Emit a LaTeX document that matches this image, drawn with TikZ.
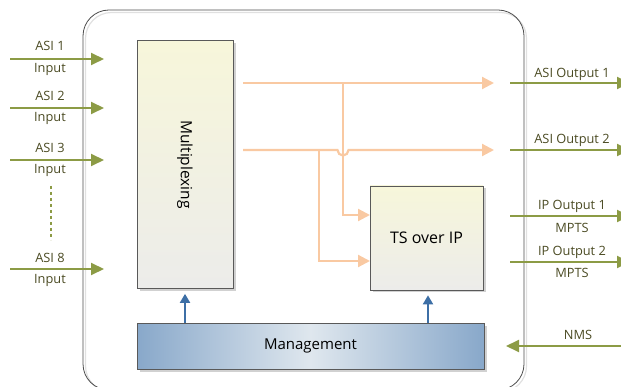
\documentclass[tikz,border=0pt]{standalone}
\usepackage{fontspec}
\setmainfont{Open Sans}
\usetikzlibrary{arrows.meta,shadows}

\definecolor{olivegreen}{HTML}{8C9B45}
\definecolor{peach}{HTML}{F9C9A2}
\definecolor{steel}{HTML}{3D6FA6}
\definecolor{labeltext}{HTML}{4A4A22}
\definecolor{boxtop}{HTML}{F7F6DA}
\definecolor{boxbottom}{HTML}{ECECEA}
\definecolor{mgmtedge}{HTML}{88A8CA}
\definecolor{mgmtmid}{HTML}{DFE7EE}

\tikzset{
  blockbox/.style={draw=black!65, line width=0.7pt, top color=boxtop, bottom color=boxbottom,
    drop shadow={shadow xshift=2.5pt, shadow yshift=-2.5pt, fill=black, opacity=0.18}},
  mgmtbox/.style={draw=black!65, line width=0.7pt, left color=mgmtedge, right color=mgmtedge, middle color=mgmtmid,
    drop shadow={shadow xshift=2.5pt, shadow yshift=-2.5pt, fill=black, opacity=0.18}},
  garrow/.style={draw=olivegreen, line width=2pt, -{Triangle[length=13pt,width=12pt]}},
  oarrow/.style={draw=peach, line width=2.2pt, -{Triangle[length=12pt,width=12pt]}},
  barrow/.style={draw=steel, line width=2pt, -{Triangle[length=9pt,width=10pt]}},
  iolabel/.style={text=labeltext, font=\fontsize{12.8}{14}\selectfont, inner sep=0pt},
}

\begin{document}
\begin{tikzpicture}[x=1pt,y=-1pt]
\useasboundingbox (0,0) rectangle (621,387);

% enclosure of the unit
\draw[black!12, line width=1.2pt, rounded corners=26pt] (85.5,12.5) rectangle (526.5,392);
\draw[black!70, line width=0.8pt, rounded corners=26pt] (83,10) rectangle (524,390);

% functional blocks
\node[blockbox, minimum width=96pt, minimum height=248pt, inner sep=0pt] (mux) at (185,164.5) {};
\node[rotate=-90, font=\fontsize{15.5}{17}\selectfont, inner sep=0pt] (muxlabel) at (mux.center) {Multiplexing};
\node[blockbox, minimum width=113pt, minimum height=104pt, font=\fontsize{16}{18}\selectfont] (ts) at (426.5,238) {TS over IP};
\node[mgmtbox, minimum width=347pt, minimum height=46pt, font=\fontsize{15}{17}\selectfont] (mgmt) at (310.5,346) {Management};

% inputs
\coordinate (in1s) at (10,59);   \coordinate (in1e) at (104,59);
\coordinate (in2s) at (10,108);  \coordinate (in2e) at (104,108);
\coordinate (in3s) at (10,160);  \coordinate (in3e) at (104,160);
\coordinate (in8s) at (10,269);  \coordinate (in8e) at (104,269);
\draw[garrow] (in1s) -- (in1e);
\draw[garrow] (in2s) -- (in2e);
\draw[garrow] (in3s) -- (in3e);
\draw[garrow] (in8s) -- (in8e);
\node[iolabel] (in1a) at (50,46) {ASI 1};
\node[iolabel] (in1b) at (50,69) {Input};
\node[iolabel] (in2a) at (50,96) {ASI 2};
\node[iolabel] (in2b) at (50,118) {Input};
\node[iolabel] (in3a) at (50,148) {ASI 3};
\node[iolabel] (in3b) at (50,170) {Input};
\node[iolabel] (in8a) at (50,258) {ASI 8};
\node[iolabel] (in8b) at (50,280) {Input};
\coordinate (dots1) at (51,186); \coordinate (dots2) at (51,240);
\draw[olivegreen, line width=2pt, dash pattern=on 3pt off 3pt] (dots1) -- (dots2);

% internal stream routing
\coordinate (o1s) at (243,83);  \coordinate (o1e) at (494,83);
\coordinate (o2s) at (243,150); \coordinate (o2e) at (494,150);
\coordinate (j1) at (343,83);   \coordinate (j2) at (319,150);
\coordinate (ts1) at (370,215); \coordinate (ts2) at (370,261);
\draw[oarrow] (o1s) -- (o1e);
\draw[oarrow] (o2s) -- (337.5,150) arc[start angle=180, end angle=360, radius=5.5pt] -- (o2e);
\draw[oarrow] (j1) |- (ts1);
\draw[oarrow] (j2) |- (ts2);

% management control
\draw[barrow] (mgmt.north -| mux.south) -- ([yshift=-5pt]mux.south);
\draw[barrow] (mgmt.north -| 428,0) -- ([yshift=-5pt]ts.south -| 428,0);

% outputs
\coordinate (out1s) at (510,83);  \coordinate (out1e) at (630,83);
\coordinate (out2s) at (510,150); \coordinate (out2e) at (630,150);
\coordinate (out3s) at (510,216); \coordinate (out3e) at (630,216);
\coordinate (out4s) at (510,262); \coordinate (out4e) at (630,262);
\draw[garrow] (out1s) -- (out1e);
\draw[garrow] (out2s) -- (out2e);
\draw[garrow] (out3s) -- (out3e);
\draw[garrow] (out4s) -- (out4e);
\node[iolabel] (out1a) at (572,74) {ASI Output 1};
\node[iolabel] (out2a) at (572,140) {ASI Output 2};
\node[iolabel] (out3a) at (572,206) {IP Output 1};
\node[iolabel] (out3b) at (572,228) {MPTS};
\node[iolabel] (out4a) at (572,252) {IP Output 2};
\node[iolabel] (out4b) at (572,273) {MPTS};

% network management
\coordinate (nmss) at (630,346); \coordinate (nmse) at (506,346);
\draw[garrow] (nmss) -- (nmse);
\node[iolabel] (nmsl) at (578,335) {NMS};
\end{tikzpicture}
\end{document}
